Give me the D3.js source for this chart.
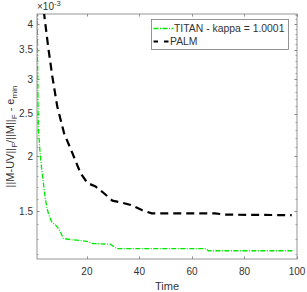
<!DOCTYPE html>
<html>
<head>
<meta charset="utf-8">
<script src="https://cdn.jsdelivr.net/npm/d3@7"></script>
<style>
  body { margin: 0; background: #fff; }
  svg { display: block; font-family: "Liberation Sans", Arial, sans-serif; }
  .tick-label { font-size: 10px; fill: #333; }
</style>
</head>
<body>
<div id="chart"></div>
<script>
"use strict";

// time samples and error values (x 1e-3)
var titanTime  = [1.0, 1.2, 1.5, 2.0, 2.8, 3.3, 4.05, 4.8, 5.4, 6.6, 8.5, 9.8, 11.0, 13.6, 20.0, 22.3, 28.8, 31.4, 65.4, 66.2, 98.7];
var titanValue = [5.4, 3.3, 2.35, 2.1, 1.865, 1.769, 1.618, 1.527, 1.479, 1.418, 1.388, 1.352, 1.301, 1.294, 1.282, 1.267, 1.263, 1.234, 1.234, 1.220, 1.220];

var palmTime  = [3.0, 3.67, 5.2, 6.8, 8.7, 11.3, 14.4, 17.6, 20.2, 23.3, 26.5, 29.7, 32.9, 36.7, 40.9, 44.7, 68.8, 72.6, 98.0];
var palmValue = [4.58, 4.24, 3.57, 3.05, 2.60, 2.26, 2.04, 1.83, 1.74, 1.708, 1.649, 1.586, 1.572, 1.551, 1.51, 1.484, 1.484, 1.474, 1.470];

var xTicks = [20, 40, 60, 80, 100];
var yTicks = [1.5, 2, 2.5, 3, 3.5, 4];
var yMinorTicks = d3.range(12, 43).map(function(d) { return d / 10; });

var legendLabels = ['TITAN - kappa = 1.0001', 'PALM'];

var width = 307, height = 292;
var margin = {top: 14, right: 10, bottom: 33, left: 37};
var plotW = width - margin.left - margin.right;
var plotH = height - margin.top - margin.bottom;

var svg = d3.select('#chart').append('svg')
    .attr('width', width)
    .attr('height', height);

var x = d3.scaleLinear().domain([1, 100]).range([0, plotW]);
var y = d3.scaleLog().domain([1.1684, 4.2164]).range([plotH, 0]);

var g = svg.append('g')
    .attr('transform', 'translate(' + margin.left + ',' + margin.top + ')');

svg.append('defs').append('clipPath').attr('id', 'plotClip')
    .append('rect').attr('width', plotW).attr('height', plotH);

var axisColor = '#7a7a7a';
var tickLen = 2.6;

// box
g.append('rect')
    .attr('width', plotW).attr('height', plotH)
    .attr('fill', 'none').attr('stroke', axisColor).attr('stroke-width', 0.8);

// x ticks (bottom + top, inward)
xTicks.forEach(function(t) {
    var px = Math.round(x(t)) + 0.5;
    g.append('line').attr('x1', px).attr('x2', px).attr('y1', plotH).attr('y2', plotH - tickLen)
        .attr('stroke', axisColor).attr('stroke-width', 0.8);
    g.append('line').attr('x1', px).attr('x2', px).attr('y1', 0).attr('y2', tickLen)
        .attr('stroke', axisColor).attr('stroke-width', 0.8);
    g.append('text').attr('class', 'tick-label')
        .attr('x', x(t)).attr('y', plotH + 16)
        .attr('text-anchor', 'middle')
        .text(t);
});

// y minor ticks
yMinorTicks.forEach(function(v) {
    if (v < y.domain()[0] || v > y.domain()[1]) { return; }
    var py = Math.round(y(v)) + 0.5;
    g.append('line').attr('x1', 0).attr('x2', 1.6).attr('y1', py).attr('y2', py)
        .attr('stroke', axisColor).attr('stroke-width', 0.6);
    g.append('line').attr('x1', plotW).attr('x2', plotW - 1.6).attr('y1', py).attr('y2', py)
        .attr('stroke', axisColor).attr('stroke-width', 0.6);
});

// y major ticks
yTicks.forEach(function(v) {
    var py = Math.round(y(v)) + 0.5;
    g.append('line').attr('x1', 0).attr('x2', tickLen).attr('y1', py).attr('y2', py)
        .attr('stroke', axisColor).attr('stroke-width', 0.8);
    g.append('line').attr('x1', plotW).attr('x2', plotW - tickLen).attr('y1', py).attr('y2', py)
        .attr('stroke', axisColor).attr('stroke-width', 0.8);
    g.append('text').attr('class', 'tick-label')
        .attr('x', -4).attr('y', y(v) + 3.6)
        .attr('text-anchor', 'end')
        .text(v);
});

// exponent label
var expo = svg.append('text').attr('x', 37).attr('y', 10)
    .attr('font-size', 10).attr('fill', '#333');
expo.append('tspan').text('\u00d710');
expo.append('tspan').attr('font-size', 7.5).attr('dy', -4).text('-3');

// axis labels
svg.append('text')
    .attr('x', margin.left + plotW / 2).attr('y', 290)
    .attr('text-anchor', 'middle').attr('font-size', 11).attr('fill', '#333')
    .text('Time');

var yl = svg.append('text')
    .attr('transform', 'translate(14,' + (margin.top + plotH / 2) + ') rotate(-90)')
    .attr('text-anchor', 'middle').attr('font-size', 11).attr('fill', '#333');
yl.append('tspan').text('||M-UV||');
yl.append('tspan').attr('font-size', 8).attr('dy', 3).text('F');
yl.append('tspan').attr('dy', -3).text('/||M||');
yl.append('tspan').attr('font-size', 8).attr('dy', 3).text('F');
yl.append('tspan').attr('dy', -3).text(' - e');
yl.append('tspan').attr('font-size', 8).attr('dy', 3).text('min');

// lines
var line = d3.line()
    .x(function(d) { return x(d[0]); })
    .y(function(d) { return y(d[1]); });

var plot = g.append('g').attr('clip-path', 'url(#plotClip)');

plot.append('path')
    .datum(palmTime.map(function(t, i) { return [t, palmValue[i]]; }))
    .attr('d', line)
    .attr('fill', 'none').attr('stroke', '#000').attr('stroke-width', 2.2)
    .attr('stroke-dasharray', '8,5');

plot.append('path')
    .datum(titanTime.map(function(t, i) { return [t, titanValue[i]]; }))
    .attr('d', line)
    .attr('fill', 'none').attr('stroke', '#00e800').attr('stroke-width', 1.3)
    .attr('stroke-dasharray', '5,1.5,1,1.5');

// legend
var leg = svg.append('g').attr('transform', 'translate(151.5,19.5)');
leg.append('rect').attr('width', 137).attr('height', 30)
    .attr('fill', '#fff').attr('stroke', axisColor).attr('stroke-width', 0.8);
leg.append('line').attr('x1', 2).attr('x2', 22).attr('y1', 9).attr('y2', 9)
    .attr('stroke', '#00e800').attr('stroke-width', 1.3).attr('stroke-dasharray', '5,1.5,1,1.5');
leg.append('line').attr('x1', 2).attr('x2', 18).attr('y1', 22).attr('y2', 22)
    .attr('stroke', '#000').attr('stroke-width', 2.2).attr('stroke-dasharray', '4.5,6');
legendLabels.forEach(function(label, i) {
    leg.append('text').attr('x', i === 0 ? 22.5 : 18.5).attr('y', 12.8 + i * 13)
        .attr('font-size', 10.4).attr('fill', '#333')
        .text(label);
});
</script>
</body>
</html>
